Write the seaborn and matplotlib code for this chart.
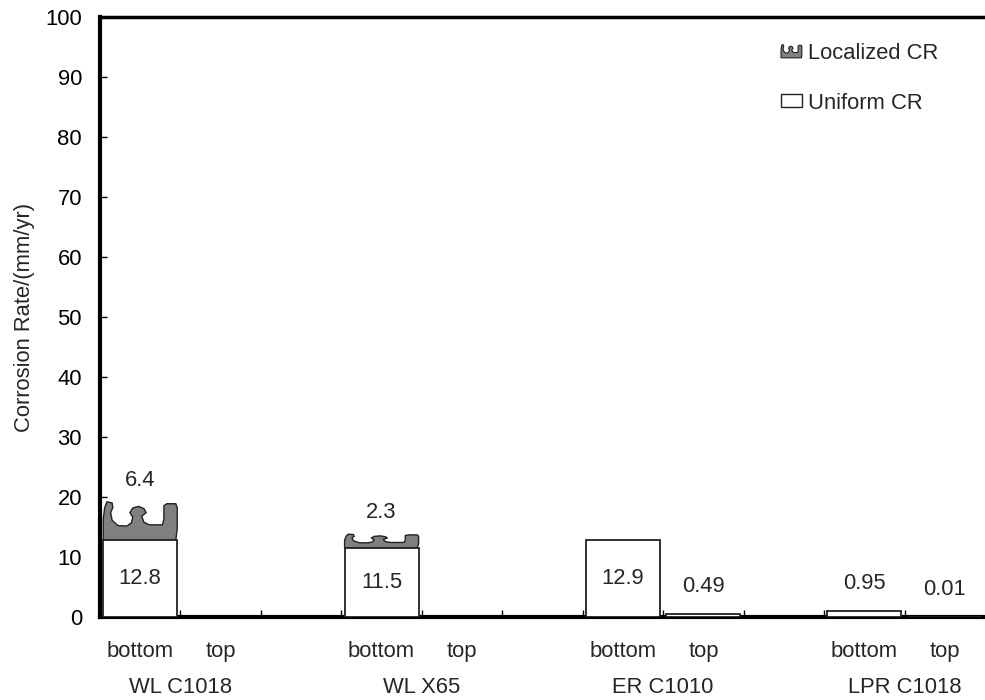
import numpy as np
import pandas as pd
import matplotlib
matplotlib.use("Agg")
import matplotlib.pyplot as plt
import seaborn as sns
from matplotlib.path import Path
from matplotlib.patches import PathPatch, Patch
from matplotlib.legend_handler import HandlerBase
from matplotlib.ticker import FixedLocator

# ---------------- data ----------------
groups = ["WL C1018", "WL X65", "ER C1010", "LPR C1018"]
positions = ["bottom", "top"]
uniform_cr = [12.8, np.nan, 11.5, np.nan, 12.9, 0.49, 0.95, 0.01]
localized_cr = [6.4, np.nan, 2.3, np.nan, np.nan, np.nan, np.nan, np.nan]
uniform_labels = ["12.8", None, "11.5", None, "12.9", "0.49", "0.95", "0.01"]
localized_labels = ["6.4", None, "2.3", None, None, None, None, None]
y_ticks = [0, 10, 20, 30, 40, 50, 60, 70, 80, 90, 100]

sns.set_theme(style="white")
plt.rcParams["font.family"] = ["Liberation Sans", "DejaVu Sans"]
FS = 15.8

# build slot order: bottom, top, gap, bottom, top, gap ...
order = []
rows = []
k = 0
for gi, g in enumerate(groups):
    for p in positions:
        key = f"{g}|{p}"
        order.append(key)
        rows.append(dict(slot=key, group=g, pos=p,
                         uniform=uniform_cr[k], localized=localized_cr[k],
                         ulab=uniform_labels[k], llab=localized_labels[k]))
        k += 1
    if gi < len(groups) - 1:
        order.append(f"gap{gi}")
df = pd.DataFrame(rows)
df["total"] = df["uniform"] + df["localized"].fillna(0)

fig = plt.figure(figsize=(9.85, 7.0), dpi=100)
ax = fig.add_axes([100 / 985, 1 - 617 / 700, 885 / 985, 600 / 700])

# notched "pitted" profile (normalized)
notch = [(0.0, 0.0), (0.0, 0.55), (0.02, 0.85), (0.05, 1.0), (0.12, 0.97),
         (0.13, 0.85), (0.10, 0.72), (0.12, 0.52), (0.2, 0.38), (0.32, 0.37),
         (0.38, 0.45), (0.40, 0.6), (0.36, 0.72), (0.40, 0.84), (0.48, 0.88),
         (0.55, 0.82), (0.58, 0.72), (0.52, 0.62), (0.55, 0.47), (0.62, 0.40),
         (0.80, 0.40), (0.82, 0.55), (0.82, 0.9), (0.86, 0.95), (0.98, 0.95),
         (1.0, 0.85), (1.0, 0.3), (0.98, 0.0), (0.0, 0.0)]
notch = np.array(notch)


def notch_path(x0, w, y0, h):
    verts = np.column_stack([x0 + notch[:, 0] * w, y0 + notch[:, 1] * h])
    codes = [Path.MOVETO] + [Path.LINETO] * (len(verts) - 2) + [Path.CLOSEPOLY]
    return Path(verts, codes)


# localized (stacked total) bars
loc_df = df[df["localized"].notna()]
sns.barplot(data=loc_df, x="slot", y="total", order=order, width=0.92,
            color="#808080", saturation=1, ax=ax, errorbar=None)
gray_patches = list(ax.patches)
for patch, (_, r) in zip(gray_patches, loc_df.iterrows()):
    x0, w = patch.get_x(), patch.get_width()
    patch.remove()
    pp = PathPatch(notch_path(x0, w, r["uniform"], r["localized"]),
                   facecolor="#808080", edgecolor="#222222", lw=1.0, zorder=3)
    ax.add_patch(pp)
    ax.annotate(r["llab"], (x0 + w / 2, r["total"]), xytext=(0, 15.5),
                textcoords="offset points", ha="center", va="center",
                fontsize=FS)

# uniform bars
uni_df = df[df["uniform"].notna()]
sns.barplot(data=uni_df, x="slot", y="uniform", order=order, width=0.92,
            color="white", saturation=1, edgecolor="#222222", linewidth=1.3,
            ax=ax, errorbar=None)
uni_patches = [p for p in ax.patches if isinstance(p, matplotlib.patches.Rectangle)][-len(uni_df):]
for patch, (_, r) in zip(uni_patches, uni_df.iterrows()):
    patch.set_zorder(4)
    cx = patch.get_x() + patch.get_width() / 2
    v = r["uniform"]
    if v > 3:
        ax.text(cx, v / 2, r["ulab"], ha="center", va="center", fontsize=FS, zorder=5)
    else:
        ax.annotate(r["ulab"], (cx, v), xytext=(0, 20), textcoords="offset points",
                    ha="center", va="center", fontsize=FS, zorder=5)

# axes styling
ax.set_ylim(0, 100)
ax.set_xlim(-0.5, len(order) - 0.5)
ax.yaxis.set_major_locator(FixedLocator(y_ticks))
ax.set_yticklabels([str(t) for t in y_ticks], fontsize=FS)
ax.tick_params(axis="y", direction="in", length=5, width=1, pad=13, left=True, colors="black")
ax.set_ylabel("Corrosion Rate/(mm/yr)", fontsize=FS, labelpad=7)

ax.set_xticks(range(len(order)))
ax.set_xticklabels(["" if s.startswith("gap") else s.split("|")[1] for s in order], fontsize=FS)
ax.tick_params(axis="x", which="major", length=0, pad=17)
ax.xaxis.set_minor_locator(FixedLocator(np.arange(0.5, len(order) - 0.5, 1.0)))
ax.tick_params(axis="x", which="minor", direction="in", length=5, width=1, bottom=True, colors="black")
ax.set_xlabel("")

for gi, g in enumerate(groups):
    i0 = order.index(f"{g}|bottom")
    ax.text(i0 + 0.5, -0.117, g, transform=ax.get_xaxis_transform(),
            ha="center", va="center", fontsize=FS)

for side in ["left", "bottom", "top"]:
    ax.spines[side].set_visible(True)
    ax.spines[side].set_color("black")
ax.spines["left"].set_linewidth(3.0)
ax.spines["bottom"].set_linewidth(3.0)
ax.spines["top"].set_linewidth(2.5)
ax.spines["right"].set_visible(False)
ax.grid(False)


# legend
class HandlerNotch(HandlerBase):
    def create_artists(self, legend, orig_handle, xdescent, ydescent, width,
                       height, fontsize, trans):
        p = PathPatch(notch_path(-xdescent, width, -ydescent, height),
                      facecolor="#808080", edgecolor="#222222", lw=0.8,
                      transform=trans)
        return [p]


h_loc = Patch(facecolor="#808080", edgecolor="#222222")
h_uni = Patch(facecolor="white", edgecolor="#222222", lw=1.0)
leg = ax.legend([h_loc, h_uni], ["Localized CR", "Uniform CR"],
                handler_map={h_loc: HandlerNotch()},
                loc="upper left", bbox_to_anchor=(781 / 985, 1 - 43 / 700),
                bbox_transform=fig.transFigure, frameon=False, fontsize=FS,
                labelspacing=1.3, handlelength=0.95, handleheight=0.55,
                handletextpad=0.3, borderpad=0, borderaxespad=0)

fig.savefig("out.png", dpi=100)
